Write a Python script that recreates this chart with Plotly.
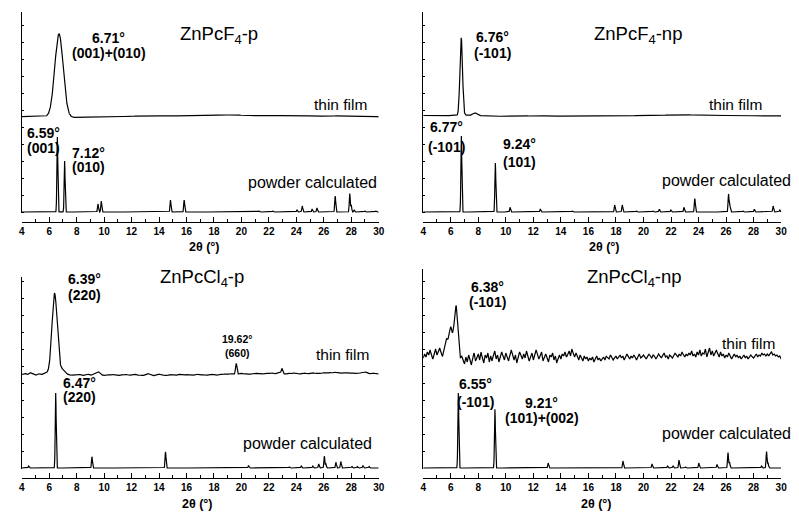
import numpy as np
import plotly.graph_objects as go

# ---------------------------------------------------------------------------
# XRD data: 2θ in degrees, intensity in arbitrary units
# Reflections are given as position / height / FWHM; film backgrounds as
# readings taken on an even 2θ grid from 4° to 30°.
# ---------------------------------------------------------------------------
x_ticks = [4, 6, 8, 10, 12, 14, 16, 18, 20, 22, 24, 26, 28, 30]

# ZnPcF4-p
f4p_film_pos = [6.71]
f4p_film_int = [83.5]
f4p_film_fwhm = [0.72]
f4p_film_bg = [0.3, 0.5, 0.2, 0.4, 0.0, -0.3, -0.5, -0.6, -0.4, -0.2,
               0.0, 0.3, 0.1, 0.4, 0.6, 0.5, 0.8, 1.0, 1.2, 0.9,
               1.1, 0.8, 1.0, 1.3, 1.5, 1.8, 1.6, 1.9, 2.2, 1.8,
               2.0, 2.3, 1.7, 1.5, 1.2, 1.5, 1.8, 1.6, 1.4, 1.1,
               1.3, 0.9, 1.2, 1.0, 0.7, 0.9, 1.1, 0.8, 0.5, 0.7,
               0.4, 0.6, 0.2]
f4p_powder_pos = [6.59, 7.12, 9.55, 9.79, 14.83, 15.83, 21.3, 22.3, 24.05, 24.43,
                  25.15, 25.5, 26.83, 27.89, 28.0, 28.2, 29.0, 29.8]
f4p_powder_int = [75, 51, 8, 11, 12, 12, 1, 1, 2, 6,
                  3, 4, 16, 18.5, 7, 2, 1, 1]

# ZnPcF4-np
f4np_film_pos = [6.76, 7.75]
f4np_film_int = [77.5, 2.5]
f4np_film_fwhm = [0.22, 0.3]
f4np_film_bg = [0.5, 0.3, 0.6, 0.2, 0.4, 0.5, 0.9, 0.8, 0.5, 0.2,
                0.0, -0.3, -0.1, -0.4, -0.2, 0.1, -0.2, 0.0, 0.3, 0.1,
                -0.1, 0.2, 0.0, -0.3, -0.1, 0.2, 0.4, 0.1, -0.2, 0.0,
                0.3, 0.5, 0.2, 0.4, 0.7, 0.9, 1.2, 1.0, 1.4, 1.1,
                0.8, 0.5, 0.7, 0.3, 0.5, 0.2, 0.4, 0.1, 0.3, 0.0,
                0.2, -0.1, 0.1]
f4np_powder_pos = [6.77, 9.24, 10.31, 12.51, 14.84, 17.91, 18.46, 19.5, 20.7, 21.15,
                   21.99, 22.94, 23.73, 26.18, 26.28, 27.24, 28.05, 29.42, 29.9]
f4np_powder_int = [76, 49, 4.7, 3, 1, 7, 7, 1, 1, 2.7,
                   2, 4.7, 13.5, 18, 6, 1, 2.7, 6, 2]

# ZnPcCl4-p
cl4p_film_pos = [6.39, 7.0, 19.62, 22.95]
cl4p_film_int = [81, 5, 11, 5]
cl4p_film_fwhm = [0.45, 0.4, 0.12, 0.12]
cl4p_film_bg = [0.5, 1.8, 0.2, 2.5, 1.0, -0.5, 1.5, 0.3, 1.2, 2.0,
                0.8, 1.0, 0.5, 0.8, 1.2, 0.0, -0.8, 0.6, -0.5, 0.4,
                -0.2, 0.9, -0.6, 0.3, 1.1, -0.4, 0.5, 1.6, 3.2, 0.2,
                -0.7, 0.5, -0.3, 0.8, 0.0, -0.9, 0.4, -0.2, 0.7, -0.5,
                0.3, 1.0, -0.4, 0.2, -0.8, 0.5, 1.4, 0.1, -0.6, 0.4,
                0.9, -0.3, 0.2, -0.7, 0.6, 0.0, -0.5, 0.8, 0.2, -0.4,
                0.7, 0.1, -0.6, 0.4, 0.9, -0.2, 0.5, -0.5, 0.3, 1.0,
                0.2, -0.3, 0.8, 0.4, 1.2, 0.5, 1.5, 0.8, 0.6, 1.0,
                1.8, 0.9, 1.4, 0.6, 1.3, 2.0, 1.1, 1.6, 0.8, 1.9,
                1.2, 2.4, 1.0, 1.7, 2.2, 1.5, 0.7, 1.9, 1.1, 2.3,
                1.4, 0.8, 1.6, 2.1, 1.0, 1.8, 2.5, 1.3, 2.0, 1.5,
                2.4, 1.7, 2.6, 2.0, 3.0, 2.2, 1.6, 2.5, 1.8, 2.3,
                1.5, 2.1, 1.4, 2.0, 2.6, 3.5, 1.8, 1.2, 2.0, 1.4,
                1.0]
cl4p_powder_pos = [4.5, 6.47, 9.11, 14.47, 20.52, 23.5, 24.36, 25.2, 25.63, 26.04,
                   26.15, 26.88, 27.24, 28.05, 28.45, 28.85, 29.3]
cl4p_powder_int = [2, 75, 11.3, 16.3, 2.5, 1, 2, 2, 4, 12,
                   4, 5.7, 6.5, 1.5, 1.5, 2.2, 1.5]

# ZnPcCl4-np
cl4np_film_pos = [6.38, 6.0, 5.65]
cl4np_film_int = [47, 28, 10]
cl4np_film_fwhm = [0.28, 0.35, 0.25]
cl4np_film_bg = [0, 4, 1, 6, 3, 8, 2, -1, 5, 9,
                 3, 6, 10, 4, 1, 5, 3, 7, 4, 2,
                 3, 0, 4, 2, 5, 1, 3, -1, 2, -3,
                 -6, 1, -4, 3, -2, -7, 2, 5, -3, 0,
                 4, -2, 6, -1, -5, 3, 0, 5, -4, 2,
                 -3, 4, 7, -1, 3, -4, 1, 6, 2, -2,
                 5, 1, -3, 4, 8, 2, -2, 3, -5, 1,
                 6, 3, -1, 4, 0, 7, 2, -3, 1, 5,
                 -2, 3, 8, 4, -1, 2, 6, -3, 1, 4,
                 0, -4, 3, 1, 5, -2, 2, -5, 0, 3,
                 -1, 4, 2, 6, 1, 3, 7, 2, 9, 4,
                 1, 5, 2, -2, 3, 0, -3, 2, -1, 1,
                 -3, 0, -2, 1, -4, -1, 2, -2, 0, -3,
                 -1, 1, -2, 2, 0, -1, 3, 1, -2, 0,
                 2, -1, 1, 3, 0, 2, -2, 1, 4, 1,
                 -1, 2, 0, 3, 1, -2, 2, 4, 0, 1,
                 3, 1, -1, 2, 4, 1, 0, 3, 2, -1,
                 1, 4, 2, 0, 3, 5, 1, 2, -1, 3,
                 2, 0, 3, 5, 2, 1, 4, 2, 6, 3,
                 1, 4, 2, 5, 3, 7, 2, 4, 1, 6,
                 3, 8, 2, 5, 4, 9, 1, 6, 10, 3,
                 7, 2, 5, 8, 3, 1, 6, 2, 4, 0,
                 3, 1, 5, 2, -1, 2, 4, 1, 3, 0,
                 2, -1, 1, 3, 0, 2, -1, 1, 3, 1,
                 0, 2, 4, 1, 3, 2, 5, 3, 4, 2,
                 4, 2, 5, 6, 3, 4, 2, 3, 1, 2,
                 -1]
cl4np_powder_pos = [6.55, 9.21, 13.08, 18.51, 20.62, 21.75, 22.15, 22.58, 23.05, 24.02,
                    25.34, 26.14, 26.25, 28.58, 28.94, 29.05]
cl4np_powder_int = [75, 58.7, 5, 7, 4, 2, 2, 8, 1, 5,
                    3.5, 15.3, 6, 2, 16.3, 5]

powder_fwhm = 0.08

# ---------------------------------------------------------------------------
W, H = 799, 515
FONT = "Liberation Sans, Arial, sans-serif"


def px_x(p):
    return p / W


def px_y(p):
    return 1 - p / H


def profile(x, pos, amp, fwhm):
    y = np.zeros_like(x)
    for p, a, w in zip(pos, amp, fwhm):
        y += a * np.exp(-4 * np.log(2) * ((x - p) / w) ** 2)
    return y


base_grid = np.arange(4.0, 30.0 + 1e-9, 0.01)

panels = [
    dict(film=(f4p_film_pos, f4p_film_int, f4p_film_fwhm, f4p_film_bg),
         powder=(f4p_powder_pos, f4p_powder_int),
         film_offset=95, left=19, right=380, top=12, base=212, axis=222),
    dict(film=(f4np_film_pos, f4np_film_int, f4np_film_fwhm, f4np_film_bg),
         powder=(f4np_powder_pos, f4np_powder_int),
         film_offset=96, left=425, right=787, top=12, base=212, axis=222),
    dict(film=(cl4p_film_pos, cl4p_film_int, cl4p_film_fwhm, cl4p_film_bg),
         powder=(cl4p_powder_pos, cl4p_powder_int),
         film_offset=93, left=19, right=380, top=277, base=468, axis=478),
    dict(film=(cl4np_film_pos, cl4np_film_int, cl4np_film_fwhm, cl4np_film_bg),
         powder=(cl4np_powder_pos, cl4np_powder_int),
         film_offset=110, left=425, right=787, top=269, base=468, axis=478),
]

fig = go.Figure()
layout = dict(
    width=W, height=H, margin=dict(l=0, r=0, t=0, b=0),
    paper_bgcolor="white", plot_bgcolor="white", showlegend=False,
    font=dict(family=FONT, color="black"),
)

for i, p in enumerate(panels, start=1):
    sfx = "" if i == 1 else str(i)
    fpos, fint, ffw, fbg = p["film"]
    ppos, pint = p["powder"]

    # powder pattern
    xp = np.union1d(base_grid, ppos)
    yp = profile(xp, ppos, pint, [powder_fwhm] * len(ppos))
    # thin film pattern = background readings + reflections, shifted up
    xf = np.union1d(base_grid, fpos)
    bg_x = np.linspace(4, 30, len(fbg))
    yf = p["film_offset"] + np.interp(xf, bg_x, fbg) + profile(xf, fpos, fint, ffw)

    for xx, yy in ((xp, yp), (xf, yf)):
        fig.add_trace(go.Scatter(x=xx, y=yy, mode="lines",
                                 line=dict(color="black", width=1.2),
                                 xaxis="x" + sfx, yaxis="y" + sfx,
                                 hoverinfo="skip"))

    layout["xaxis" + sfx] = dict(
        domain=[px_x(p["left"]), px_x(p["right"])], range=[4, 30],
        anchor="free", position=px_y(p["axis"]),
        showline=True, linecolor="black", linewidth=1,
        tickmode="array", tickvals=x_ticks, ticktext=[str(t) for t in x_ticks],
        ticks="inside", ticklen=5, tickwidth=1, tickcolor="black",
        minor=dict(tickmode="linear", tick0=4, dtick=1, ticks="inside",
                   ticklen=3, tickcolor="black"),
        tickfont=dict(family=FONT, size=10, color="black", weight="bold"),
        showgrid=False, zeroline=False,
    )
    span = p["base"] - p["top"]
    layout["yaxis" + sfx] = dict(
        domain=[px_y(p["base"] + 1), px_y(p["top"])], range=[-1, span],
        anchor="x" + sfx, showline=True, linecolor="black", linewidth=1,
        ticks="inside", ticklen=2, tickwidth=1, tickcolor="black",
        tick0=0, dtick=17, showticklabels=False,
        showgrid=False, zeroline=False,
    )

# text labels: panel, text, 2θ, intensity, anchor, size, bold
labels = [
    (1, "6.71°", 10.34, 174, "center", 14, True),
    (1, "(001)+(010)", 10.34, 159, "center", 14, True),
    (1, "ZnPcF<sub>4</sub>-p", 15.38, 177, "left", 18.5, False),
    (1, "thin film", 29.28, 108, "right", 15.5, False),
    (1, "6.59°", 4.2, 79, "left", 14, True),
    (1, "(001)", 4.2, 64, "left", 14, True),
    (1, "7.12°", 7.5, 59, "left", 14, True),
    (1, "(010)", 7.5, 45, "left", 14, True),
    (1, "powder calculated", 30.0, 30, "right", 16, False),

    (2, "6.76°", 9.0, 175, "center", 14, True),
    (2, "(-101)", 9.0, 159, "center", 14, True),
    (2, "ZnPcF<sub>4</sub>-np", 16.24, 177, "left", 18.5, False),
    (2, "thin film", 28.77, 108, "right", 15.5, False),
    (2, "6.77°", 5.66, 85, "center", 14, True),
    (2, "(-101)", 5.66, 65, "center", 14, True),
    (2, "9.24°", 10.99, 68, "center", 14, True),
    (2, "(101)", 10.99, 50, "center", 14, True),
    (2, "powder calculated", 30.86, 32, "right", 16, False),

    (3, "6.39°", 7.19, 189, "left", 14, True),
    (3, "(220)", 7.19, 173, "left", 14, True),
    (3, "ZnPcCl<sub>4</sub>-p", 13.92, 190, "left", 18.5, False),
    (3, "19.62°", 19.68, 129, "center", 10.5, True),
    (3, "(660)", 19.68, 115, "center", 10.5, True),
    (3, "thin film", 29.42, 114, "right", 15.5, False),
    (3, "6.47°", 6.88, 85, "left", 14, True),
    (3, "(220)", 6.88, 71, "left", 14, True),
    (3, "powder calculated", 29.64, 25, "right", 16, False),

    (4, "6.38°", 8.68, 181, "center", 14, True),
    (4, "(-101)", 8.68, 166, "center", 14, True),
    (4, "ZnPcCl<sub>4</sub>-np", 15.75, 190, "left", 18.5, False),
    (4, "thin film", 29.73, 125, "right", 15.5, False),
    (4, "6.55°", 7.8, 84, "center", 14, True),
    (4, "(-101)", 7.8, 66, "center", 14, True),
    (4, "9.21°", 12.62, 65, "center", 14, True),
    (4, "(101)+(002)", 12.62, 50, "center", 14, True),
    (4, "powder calculated", 30.86, 35, "right", 16, False),
]

annotations = []
for panel, text, xv, yv, anchor, size, bold in labels:
    p = panels[panel - 1]
    # place in paper space so labels running past the 30° edge stay visible
    x_px = p["left"] + (xv - 4) * (p["right"] - p["left"]) / 26
    y_px = p["base"] - yv
    annotations.append(dict(
        text=f"<b>{text}</b>" if bold else text, x=px_x(x_px), y=px_y(y_px),
        xref="paper", yref="paper", xanchor=anchor, yanchor="middle",
        showarrow=False, font=dict(family=FONT, size=size, color="black"),
    ))

# axis titles
for cx, cy in ((204, 247), (608, 247), (197, 504), (600, 504)):
    annotations.append(dict(
        text="<b>2θ (°)</b>", x=px_x(cx), y=px_y(cy), xref="paper", yref="paper",
        xanchor="center", yanchor="middle", showarrow=False,
        font=dict(family=FONT, size=12.5, color="black"),
    ))

layout["annotations"] = annotations
fig.update_layout(**layout)
fig.write_html("out.html")
